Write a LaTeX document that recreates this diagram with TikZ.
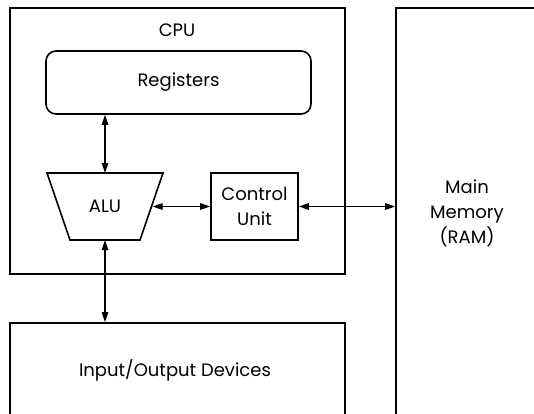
\documentclass[tikz,border=0pt]{standalone}
\usepackage{fontspec}
\setmainfont{Poppins}
\usetikzlibrary{arrows.meta}

\begin{document}
\begin{tikzpicture}[x=1pt, y=-1pt,
	box/.style={draw, line width=1.6pt, inner sep=0pt},
	link/.style={line width=1.2pt, {Triangle[length=10pt,width=6.5pt]}-{Triangle[length=10pt,width=6.5pt]}},
	every node/.style={font=\fontsize{18}{25}\selectfont, align=center}]
	\useasboundingbox (0,0) rectangle (534,413);

	\node[box, minimum width=335pt, minimum height=266pt] (cpu) at (177.5,141) {};
	\node (cpulabel) at (177,30) {CPU};
	\node[box, rounded corners=10pt, minimum width=265pt, minimum height=63pt] (regs) at (178.5,82.5) {Registers};

	\draw[box, line join=miter] (47,173) -- (163,173) -- (140,240) -- (70,240) -- cycle;
	\node (alu) at (105,206.5) {ALU};
	\coordinate (alutop) at (105,173);
	\coordinate (alubottom) at (105,240);
	\coordinate (aluside) at (152.5,206.5);

	\node[box, minimum width=87pt, minimum height=67pt] (cu) at (254.5,206.5) {Control\\Unit};

	\node[box, minimum width=160pt, minimum height=440pt] (ram) at (476,228) {};
	\node (ramlabel) at (467,213) {Main\\Memory\\(RAM)};

	\node[box, minimum width=335pt, minimum height=130pt] (io) at (177.5,388) {};
	\node (iolabel) at (175,370) {Input/Output Devices};

	\draw[link] (alutop |- regs.south) -- (alutop);
	\draw[link] (aluside) -- (cu.west);
	\draw[link] (cu.east) -- (cu.east -| ram.west);
	\draw[link] (alubottom) -- (alubottom |- io.north);
\end{tikzpicture}
\end{document}
